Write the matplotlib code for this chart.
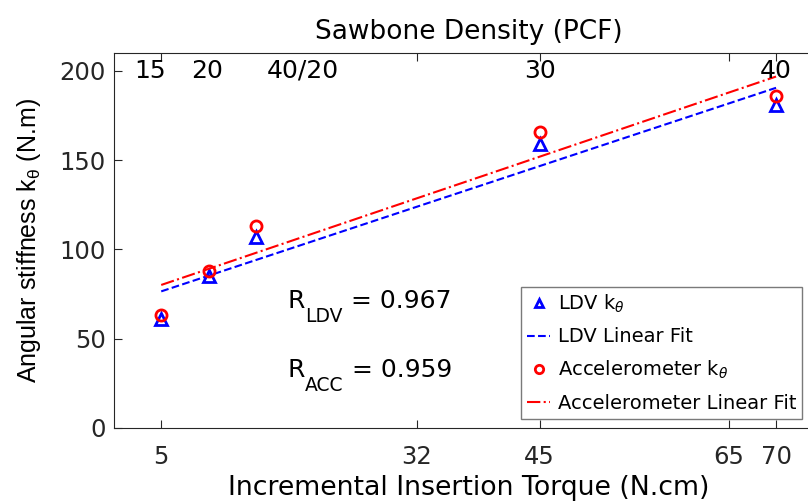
import numpy as np
import matplotlib.pyplot as plt

plt.rcParams['font.family'] = ['DejaVu Sans']
plt.rcParams['mathtext.fontset'] = 'dejavusans'
plt.rcParams['mathtext.rm'] = 'Liberation Sans'
plt.rcParams['mathtext.it'] = 'Liberation Sans'

# data
torque = [5, 10, 15, 45, 70]
k_ldv = [61, 85, 107, 159, 181]
k_acc = [63, 88, 113, 166, 186]
xticks = [5, 32, 45, 65, 70]
yticks = [0, 50, 100, 150, 200]
density_labels = ["15", "20", "40/20", "30", "40"]
density_x = [3.8, 9.8, 20, 45, 70]
r_ldv = 0.967
r_acc = 0.959

p_ldv = np.polyfit(torque, k_ldv, 1)
p_acc = np.polyfit(torque, k_acc, 1)
xfit = np.array([torque[0], torque[-1]])

fig = plt.figure(figsize=(8.08, 5.01), dpi=100)
ax = fig.add_axes([0.141, 0.146, 0.878, 0.748])

ax.plot(torque, k_ldv, '^', color='b', mfc='none', mew=2, ms=8, label=r'LDV k$_\theta$')
ax.plot(xfit, np.polyval(p_ldv, xfit), '--', color='b', lw=1.5, label='LDV Linear Fit')
ax.plot(torque, k_acc, 'o', color='r', mfc='none', mew=2, ms=8, label=r'Accelerometer k$_\theta$')
ax.plot(xfit, np.polyval(p_acc, xfit), '-.', color='r', lw=1.5, label='Accelerometer Linear Fit')

for s, xx in zip(density_labels, density_x):
    ax.text(xx, 200, s, ha='center', va='center', fontsize=18)


def r_text(x, y, sub, val):
    # R with a big, low subscript like the original
    t = ax.text(x, y, 'R', fontsize=18, va='baseline')
    t2 = ax.annotate(sub, xy=(1, y), xycoords=(t, 'data'), xytext=(0.5, -10),
                     textcoords='offset points', fontsize=13.5, va='baseline', ha='left')
    ax.annotate(' = %.3f' % val, xy=(1, y), xycoords=(t2, 'data'),
                fontsize=18, va='baseline', ha='left')


r_text(18.3, 67.2, 'LDV', r_ldv)
r_text(18.3, 28.6, 'ACC', r_acc)

ax.set_xlim(0, 75)
ax.set_ylim(0, 210)
ax.set_xticks(xticks)
ax.set_yticks(yticks)
ax.tick_params(direction='in', top=True, right=True, labelsize=17.5, length=6, colors='0.15')
ax.tick_params(axis='x', pad=12)
ax.tick_params(axis='y', pad=6)
for sp in ax.spines.values():
    sp.set_color('0.15')
ax.set_title('Sawbone Density (PCF)', fontsize=19, pad=10)
ax.set_xlabel('Incremental Insertion Torque (N.cm)', fontsize=19.3, labelpad=5)
ax.set_ylabel(r'Angular stiffness k$_\theta$ (N.m)', fontsize=18, labelpad=12,
              fontfamily='Liberation Sans', math_fontfamily='custom')

leg = ax.legend(loc='lower left', bbox_to_anchor=(0.574, 0.024), borderaxespad=0,
                fontsize=14, handlelength=1.2, handletextpad=0.4, borderpad=0.3,
                fancybox=False, labelspacing=0.65, markerscale=0.75)
leg.get_frame().set_edgecolor('0.35')
leg.get_frame().set_linewidth(1.0)

fig.savefig('out.png', dpi=100)
